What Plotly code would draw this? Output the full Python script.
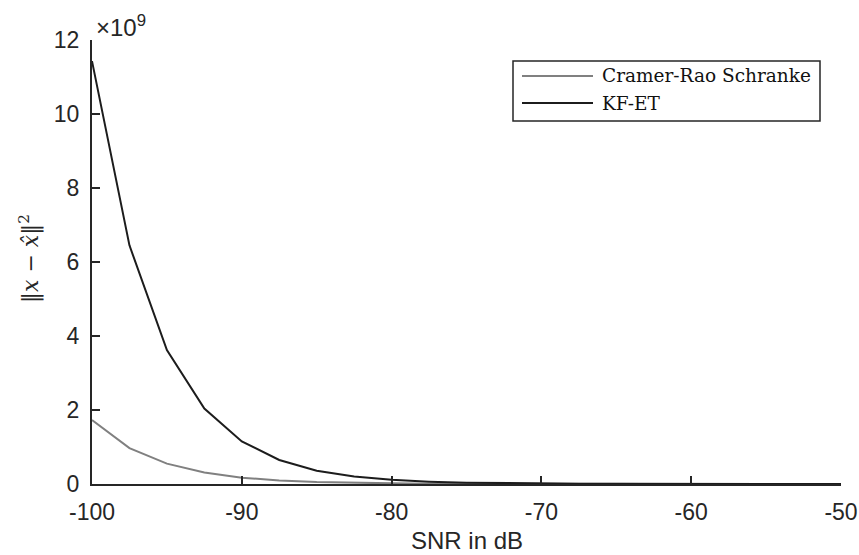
import plotly.graph_objects as go

# SNR grid in dB
snr_db = [-100, -97.5, -95, -92.5, -90, -87.5, -85, -82.5, -80, -77.5, -75,
          -72.5, -70, -67.5, -65, -62.5, -60, -57.5, -55, -52.5, -50]

# squared estimation error, in units of 1e9
crb_err = [1.73, 0.97, 0.55, 0.31, 0.17, 0.097, 0.055, 0.031, 0.017, 0.0097, 0.0055,
           0.0031, 0.0017, 0.00097, 0.00055, 0.00031, 0.00017, 0.0001, 0.00005, 0.00003, 0.00002]
kfet_err = [11.43, 6.45, 3.62, 2.04, 1.15, 0.65, 0.36, 0.2, 0.114, 0.064, 0.036,
            0.02, 0.0114, 0.0064, 0.0036, 0.002, 0.0011, 0.00064, 0.00036, 0.0002, 0.00011]

series_names = ["Cramer-Rao Schranke", "KF-ET"]
series_colors = ["#808080", "#1c1c1c"]

x_ticks = [-100, -90, -80, -70, -60, -50]
y_ticks = [0, 2, 4, 6, 8, 10, 12]

W, H = 859, 555
ML, MR, MT, MB = 92, 18, 40, 71
PW, PH = W - ML - MR, H - MT - MB

axis_color = "#262626"
sans = "Liberation Sans, Arial, Helvetica, sans-serif"
serif = "DejaVu Serif, Liberation Serif, serif"
tick_font = dict(family=sans, size=23, color=axis_color)


def px_x(p):
    return (p - ML) / PW


def px_y(p):
    return (H - MB - p) / PH


fig = go.Figure()
for name, ys, col in zip(series_names, [crb_err, kfet_err], series_colors):
    fig.add_trace(go.Scatter(x=snr_db, y=ys, mode="lines", name=name,
                             line=dict(color=col, width=2), showlegend=False))

fig.update_layout(
    width=W, height=H,
    margin=dict(l=ML, r=MR, t=MT, b=MB),
    plot_bgcolor="white", paper_bgcolor="white",
    xaxis=dict(range=[-100, -50], tickvals=x_ticks, ticktext=[str(v) for v in x_ticks],
               showgrid=False, zeroline=False, showline=True, linecolor=axis_color, linewidth=2,
               ticks="inside", ticklen=8, tickwidth=1.5, tickcolor=axis_color,
               tickfont=tick_font, ticklabelstandoff=6, automargin=False),
    yaxis=dict(range=[0, 12], tickvals=y_ticks, ticktext=[str(v) for v in y_ticks],
               showgrid=False, zeroline=False, showline=True, linecolor=axis_color, linewidth=2,
               ticks="inside", ticklen=8, tickwidth=1.5, tickcolor=axis_color,
               tickfont=tick_font, ticklabelstandoff=6, automargin=False),
)

# axis titles
fig.add_annotation(xref="paper", yref="paper", x=0.5, y=px_y(555),
                   xanchor="center", yanchor="bottom", showarrow=False, borderpad=0,
                   text="SNR in dB", font=dict(family=sans, size=24, color=axis_color))
fig.add_annotation(xref="paper", yref="paper", x=px_x(29), y=px_y(259),
                   xanchor="center", yanchor="middle", showarrow=False, textangle=-90,
                   text="‖<i>x</i> − <i>x̂</i>‖<sup>2</sup>",
                   font=dict(family=serif, size=22, color=axis_color))

# exponent label above the y axis
fig.add_annotation(xref="paper", yref="paper", x=px_x(94), y=px_y(40),
                   xanchor="left", yanchor="bottom", yshift=-3, showarrow=False,
                   text="×10<sup>9</sup>", font=dict(family=sans, size=24, color=axis_color))

# legend box with long line samples
box_l, box_r, box_t, box_b = 513, 820, 61, 121
fig.add_shape(type="rect", xref="paper", yref="paper",
              x0=px_x(box_l), x1=px_x(box_r), y0=px_y(box_b), y1=px_y(box_t),
              line=dict(color=axis_color, width=1.5), fillcolor="white", layer="above")
row_y = [76, 103]
for name, col, ry in zip(series_names, series_colors, row_y):
    fig.add_shape(type="line", xref="paper", yref="paper",
                  x0=px_x(522), x1=px_x(593), y0=px_y(ry), y1=px_y(ry),
                  line=dict(color=col, width=2), layer="above")
    fig.add_annotation(xref="paper", yref="paper", x=px_x(600), y=px_y(ry),
                       xanchor="left", yanchor="middle", showarrow=False,
                       text=name, font=dict(family=serif, size=18.5, color="#111111"))

fig.write_html("out.html")
